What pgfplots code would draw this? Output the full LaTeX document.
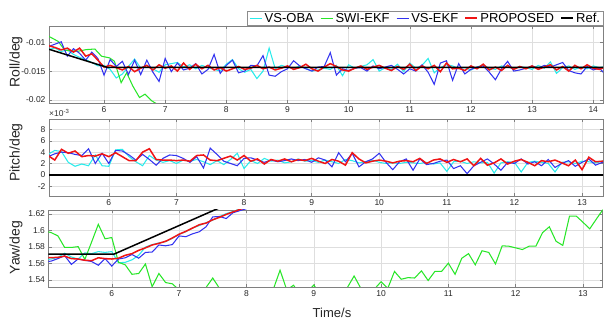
\documentclass[border=0pt]{standalone}
\usepackage{pgfplots}
\pgfplotsset{compat=1.18}
\usepackage{pgfplotstable}
\usepackage{fontspec}
\setmainfont{Liberation Sans}

\definecolor{cC}{RGB}{40,235,235}
\definecolor{cG}{RGB}{40,230,40}
\definecolor{cB}{RGB}{50,50,240}
\definecolor{cR}{RGB}{240,20,20}

\pgfplotstableread{
t c b r
5.1 -0.0112 -0.0107 -0.0106
5.2 -0.0110 -0.0103 -0.0109
5.3 -0.0116 -0.0099 -0.0113
5.4 -0.0113 -0.0124 -0.0110
5.5 -0.0121 -0.0111 -0.0117
5.6 -0.0126 -0.0119 -0.0110
5.7 -0.0130 -0.0131 -0.0124
5.8 -0.0135 -0.0117 -0.0120
5.9 -0.0141 -0.0128 -0.0131
6.0 -0.0140 -0.0157 -0.0143
6.1 -0.0147 -0.0130 -0.0140
6.2 -0.0162 -0.0142 -0.0144
6.3 -0.0155 -0.0133 -0.0148
6.4 -0.0142 -0.0156 -0.0142
6.5 -0.0129 -0.0131 -0.0151
6.6 -0.0145 -0.0156 -0.0145
6.7 -0.0140 -0.0131 -0.0140
6.8 -0.0146 -0.0152 -0.0148
6.9 -0.0152 -0.0168 -0.0139
7.0 -0.0139 -0.0128 -0.0145
7.1 -0.0137 -0.0151 -0.0141
7.2 -0.0135 -0.0136 -0.0150
7.3 -0.0143 -0.0148 -0.0136
7.4 -0.0139 -0.0145 -0.0147
7.5 -0.0146 -0.0137 -0.0138
7.6 -0.0140 -0.0155 -0.0146
7.7 -0.0144 -0.0147 -0.0140
7.8 -0.0147 -0.0121 -0.0148
7.9 -0.0150 -0.0154 -0.0144
8.0 -0.0138 -0.0140 -0.0150
8.1 -0.0130 -0.0131 -0.0146
8.2 -0.0146 -0.0153 -0.0142
8.3 -0.0152 -0.0150 -0.0147
8.4 -0.0147 -0.0140 -0.0145
8.5 -0.0163 -0.0141 -0.0140
8.6 -0.0150 -0.0123 -0.0146
8.7 -0.0110 -0.0157 -0.0143
8.8 -0.0146 -0.0159 -0.0148
8.9 -0.0140 -0.0151 -0.0145
9.0 -0.0143 -0.0146 -0.0141
9.1 -0.0146 -0.0132 -0.0147
9.2 -0.0141 -0.0141 -0.0144
9.3 -0.0145 -0.0146 -0.0138
9.4 -0.0150 -0.0150 -0.0146
9.5 -0.0148 -0.0143 -0.0150
9.6 -0.0145 -0.0142 -0.0143
9.7 -0.0147 -0.0118 -0.0137
9.8 -0.0140 -0.0157 -0.0142
9.9 -0.0158 -0.0146 -0.0148
10.0 -0.0139 -0.0149 -0.0150
10.1 -0.0145 -0.0145 -0.0145
10.2 -0.0142 -0.0144 -0.0141
10.3 -0.0139 -0.0150 -0.0147
10.4 -0.0130 -0.0141 -0.0143
10.5 -0.0150 -0.0146 -0.0140
10.6 -0.0144 -0.0143 -0.0145
10.7 -0.0147 -0.0140 -0.0149
10.8 -0.0138 -0.0147 -0.0142
10.9 -0.0151 -0.0155 -0.0147
11.0 -0.0136 -0.0146 -0.0138
11.1 -0.0145 -0.0150 -0.0149
11.2 -0.0140 -0.0139 -0.0141
11.3 -0.0128 -0.0152 -0.0146
11.4 -0.0153 -0.0173 -0.0140
11.5 -0.0144 -0.0136 -0.0151
11.6 -0.0139 -0.0132 -0.0136
11.7 -0.0141 -0.0166 -0.0146
11.8 -0.0146 -0.0137 -0.0145
11.9 -0.0144 -0.0155 -0.0149
12.0 -0.0148 -0.0147 -0.0141
12.1 -0.0143 -0.0143 -0.0146
12.2 -0.0139 -0.0141 -0.0138
12.3 -0.0145 -0.0152 -0.0148
12.4 -0.0147 -0.0165 -0.0143
12.5 -0.0141 -0.0146 -0.0149
12.6 -0.0143 -0.0133 -0.0140
12.7 -0.0146 -0.0150 -0.0147
12.8 -0.0142 -0.0148 -0.0142
12.9 -0.0144 -0.0145 -0.0146
13.0 -0.0147 -0.0141 -0.0141
13.1 -0.0140 -0.0145 -0.0147
13.2 -0.0145 -0.0140 -0.0143
13.3 -0.0134 -0.0143 -0.0139
13.4 -0.0154 -0.0139 -0.0148
13.5 -0.0144 -0.0135 -0.0142
13.6 -0.0141 -0.0149 -0.0150
13.7 -0.0147 -0.0153 -0.0140
13.8 -0.0143 -0.0155 -0.0146
13.9 -0.0146 -0.0142 -0.0139
14.0 -0.0141 -0.0148 -0.0145
14.1 -0.0144 -0.0145 -0.0147
14.2 -0.0142 -0.0156 -0.0143
}\rolltab

\pgfplotstableread{
t v
5.1 -0.00897
5.25 -0.00983
5.36 -0.01138
5.57 -0.01155
5.71 -0.01126
5.85 -0.01116
5.96 -0.01241
6.09 -0.0127
6.17 -0.01328
6.28 -0.01702
6.37 -0.01529
6.47 -0.01759
6.58 -0.0196
6.67 -0.01902
6.78 -0.02017
6.91 -0.02103
7.0 -0.0215
}\rollgreen

\pgfplotstableread{
t c b r
5.1 3.6 3.2 3.4
5.2 4.3 3.7 2.6
5.3 4.1 4.0 4.5
5.4 2.2 3.9 3.8
5.5 1.5 3.6 4.2
5.6 1.9 3.4 3.2
5.7 1.6 4.6 3.4
5.8 3.5 2.0 3.3
5.9 1.6 3.8 3.7
6.0 1.5 2.0 3.2
6.1 4.4 4.3 3.9
6.2 4.5 4.2 3.2
6.3 3.2 3.5 2.5
6.4 2.3 2.6 2.5
6.5 1.6 3.6 4.0
6.6 3.4 2.7 4.6
6.7 2.6 1.7 2.7
6.8 2.2 2.9 2.6
6.9 2.5 3.5 2.6
7.0 2.0 3.4 2.5
7.1 2.6 2.9 2.6
7.2 2.4 2.2 2.4
7.3 2.7 3.2 3.4
7.4 2.3 1.2 3.5
7.5 1.8 4.7 2.6
7.6 2.5 3.6 2.5
7.7 1.8 2.4 2.9
7.8 2.7 2.0 3.3
7.9 3.8 1.6 2.6
8.0 1.1 2.9 3.4
8.1 2.5 3.0 2.4
8.2 2.0 2.6 2.8
8.3 2.9 2.2 1.9
8.4 2.4 2.6 2.7
8.5 2.6 2.3 2.4
8.6 2.1 2.5 2.8
8.7 2.3 2.8 2.3
8.8 2.8 2.5 2.7
8.9 2.4 2.7 2.5
9.0 2.5 2.2 2.9
9.1 2.2 3.0 2.4
9.2 2.6 2.6 2.0
9.3 2.3 1.4 2.7
9.4 2.0 3.9 2.4
9.5 2.7 2.3 1.7
9.6 2.5 3.8 3.9
9.7 2.1 1.4 2.8
9.8 2.3 2.3 2.1
9.9 2.6 2.8 2.4
10.0 2.2 3.8 2.6
10.1 2.0 2.2 2.4
10.2 2.1 0.9 2.1
10.3 2.0 2.3 2.4
10.4 2.2 2.8 2.5
10.5 2.1 0.8 2.3
10.6 2.0 2.8 2.9
10.7 2.2 1.8 2.0
10.8 1.9 2.0 2.6
10.9 2.1 2.4 2.8
11.0 0.6 2.6 2.2
11.1 2.3 1.1 2.7
11.2 2.4 1.6 2.3
11.3 2.0 0.2 2.8
11.4 2.3 1.6 1.6
11.5 2.1 2.2 2.9
11.6 2.2 2.8 1.7
11.7 0.3 1.9 2.1
11.8 2.1 0.8 2.8
11.9 2.3 2.2 1.9
12.0 2.2 2.0 2.4
12.1 0.5 2.8 2.7
12.2 2.2 1.9 2.2
12.3 2.4 2.3 1.6
12.4 2.2 1.6 2.5
12.5 2.0 2.7 2.3
12.6 0.5 1.3 2.6
12.7 2.2 2.0 2.1
12.8 2.3 2.5 1.6
12.9 2.0 1.5 2.6
13.0 2.4 2.2 0.9
13.1 2.3 2.8 3.1
13.2 2.1 1.7 2.3
13.3 2.4 2.2 2.4
13.4 2.2 2.5 2.3
}\pitchtab

\pgfplotstableread{
t c b r
5.05 1.5650 1.5625 1.5672
5.1 1.5655 1.5630 1.5672
5.2 1.5675 1.5660 1.5675
5.3 1.5725 1.5695 1.5690
5.4 1.5680 1.5590 1.5660
5.5 1.5655 1.5655 1.5655
5.6 1.5730 1.5640 1.5640
5.7 1.5720 1.5625 1.5635
5.8 1.5745 1.5580 1.5670
5.9 1.5735 1.5660 1.5660
6.0 1.5745 1.5570 1.5655
6.1 1.5610 1.5655 1.5665
6.2 1.5615 1.5670 1.5700
6.3 1.5645 1.5710 1.5720
6.4 1.5700 1.5665 1.5760
6.5 1.5800 1.5735 1.5790
6.6 1.5830 1.5740 1.5825
6.7 1.5850 1.5825 1.5845
6.8 1.5865 1.5815 1.5870
6.9 1.5905 1.5830 1.5910
7.0 1.5955 1.5935 1.5955
7.1 1.5985 1.5925 1.5990
7.2 1.6030 1.5960 1.6030
7.3 1.6060 1.5985 1.6070
7.4 1.6095 1.6045 1.6090
7.5 1.6125 1.6165 1.6130
7.6 1.6170 1.6170 1.6160
7.7 1.6205 1.6145 1.6195
7.8 1.6230 1.6215 1.6225
7.9 1.6260 1.6240 1.6255
8.0 1.6290 1.6265 1.6285
8.1 1.6320 1.6300 1.6315
}\yawtab

\pgfplotstableread{
t v
5.05 1.5985
5.1 1.5975
5.2 1.5935
5.3 1.5795
5.4 1.5795
5.5 1.5805
5.6 1.5650
5.7 1.5860
5.8 1.6075
5.9 1.5900
6.0 1.5915
6.1 1.5615
6.2 1.5585
6.3 1.5470
6.4 1.5480
6.5 1.5595
6.6 1.5320
6.7 1.5480
6.8 1.5370
6.9 1.5355
7.0 1.5280
7.1 1.5200
7.2 1.5150
7.3 1.5220
7.4 1.5310
7.5 1.5425
7.6 1.5300
7.7 1.5180
7.8 1.5100
7.9 1.5150
8.0 1.5080
8.1 1.5120
8.2 1.5180
8.3 1.5140
8.4 1.5290
8.5 1.5520
8.6 1.5280
8.7 1.5338
8.8 1.5220
8.9 1.5250
9.0 1.5340
9.1 1.5230
9.2 1.5150
9.3 1.5200
9.4 1.5260
9.5 1.5310
9.6 1.5450
9.7 1.5300
9.8 1.5250
9.9 1.5290
10.0 1.5380
10.1 1.5300
10.2 1.5505
10.3 1.5410
10.4 1.5430
10.5 1.5425
10.6 1.5512
10.7 1.5395
10.8 1.5505
10.9 1.5505
11.0 1.5605
11.1 1.5470
11.2 1.5665
11.3 1.5720
11.4 1.5585
11.5 1.5755
11.6 1.5735
11.7 1.5595
11.8 1.5815
11.9 1.5810
12.0 1.5790
12.1 1.5770
12.2 1.5810
12.3 1.5810
12.4 1.5975
12.5 1.6045
12.6 1.5870
12.7 1.5820
12.8 1.6175
12.9 1.6175
13.0 1.6100
13.1 1.6020
13.2 1.6140
13.3 1.6258
13.35 1.6200
}\yawgreen

\pgfplotsset{
  panel/.style={
    scale only axis, width=554pt, height=77pt,
    axis line style={black!50}, tick style={black!50, line width=0.4pt},
    tick align=inside, major tick length=3pt,
    grid=major, grid style={black!13, line width=0.4pt},
    ticklabel style={font=\fontsize{8.5}{9}\selectfont, text=black!85},
    scaled x ticks=false, scaled y ticks=false,
    enlargelimits=false, clip=true,
    legend image code/.code={\draw[##1] (0pt,0pt) -- (12pt,0pt);},
  },
  lc/.style={color=cC, line width=1.05pt},
  lg/.style={color=cG, line width=1.05pt},
  lb/.style={color=cB, line width=1.05pt},
  lr/.style={color=cR, line width=1.5pt},
  lk/.style={color=black, line width=1.5pt},
}

\begin{document}
\begin{tikzpicture}
\useasboundingbox (0pt,0pt) rectangle (607pt,325pt);

% Roll
\begin{axis}[panel, at={(49pt,222.3pt)}, anchor=south west,
  xmin=5.1, xmax=14.16, ymin=-0.0205, ymax=-0.0071,
  xtick={6,7,8,9,10,11,12,13,14}, xticklabels={6,7,8,9,10,11,12,13,14},
  ytick={-0.02,-0.015,-0.01}, yticklabels={-0.02,-0.015,-0.01},
  legend columns=5,
  legend style={at={(1,1)}, anchor=south east, yshift=0.5pt,
    draw=black!45, fill=white, font=\fontsize{13}{14}\selectfont,
    inner xsep=2pt, inner ysep=0.5pt, nodes={inner sep=0.8pt},
    /tikz/every odd column/.append style={column sep=1.5pt},
    /tikz/every even column/.append style={column sep=5.5pt}},
]
\addplot[lc] table[x=t,y=c] {\rolltab};
\addlegendentry{VS-OBA}
\addplot[lg] table[x=t,y=v] {\rollgreen};
\addlegendentry{SWI-EKF}
\addplot[lb] table[x=t,y=b] {\rolltab};
\addlegendentry{VS-EKF}
\addplot[lr] table[x=t,y=r] {\rolltab};
\addlegendentry{PROPOSED}
\addplot[lk] coordinates {(5.1,-0.0112) (6.05,-0.01435) (14.2,-0.01435)};
\addlegendentry{Ref.}
\end{axis}

% Pitch
\begin{axis}[panel, at={(49pt,128.7pt)}, anchor=south west,
  xmin=5.115, xmax=13.31, ymin=-3.8, ymax=9.8,
  xtick={6,7,8,9,10,11,12,13}, xticklabels={6,7,8,9,10,11,12,13},
  ytick={-2,0,2,4,6,8}, yticklabels={-2,0,2,4,6,8},
]
\addplot[lc] table[x=t,y=c] {\pitchtab};
\addplot[lb] table[x=t,y=b] {\pitchtab};
\addplot[lr] table[x=t,y=r] {\pitchtab};
\addplot[black, line width=1.7pt] coordinates {(5.1,0) (13.4,0)};
\end{axis}

% Yaw
\begin{axis}[panel, at={(48.5pt,38.3pt)}, anchor=south west,
  xmin=5.06, xmax=13.29, ymin=1.532, ymax=1.6252,
  xtick={6,7,8,9,10,11,12,13}, xticklabels={6,7,8,9,10,11,12,13},
  ytick={1.54,1.56,1.58,1.6,1.62}, yticklabels={1.54,1.56,1.58,1.6,1.62},
]
\addplot[lc] table[x=t,y=c] {\yawtab};
\addplot[lg] table[x=t,y=v] {\yawgreen};
\addplot[lb] table[x=t,y=b] {\yawtab};
\addplot[lr] table[x=t,y=r] {\yawtab};
\addplot[lk] coordinates {(5.05,1.5713) (6.03,1.5713) (8.0,1.6418)};
\end{axis}

\node[anchor=west, inner sep=0pt, font=\fontsize{8.5}{9}\selectfont, text=black!80] at (49pt,212pt) {×10\textsuperscript{-3}};
\node[rotate=90, font=\fontsize{14}{15}\selectfont, text=black!85] at (16pt,263pt) {Roll/deg};
\node[rotate=90, font=\fontsize{14}{15}\selectfont, text=black!85] at (16pt,172.5pt) {Pitch/deg};
\node[rotate=90, font=\fontsize{14}{15}\selectfont, text=black!85] at (16pt,77.5pt) {Yaw/deg};
\node[font=\fontsize{13}{14}\selectfont, text=black!85] at (332pt,12pt) {Time/s};
\end{tikzpicture}
\end{document}
